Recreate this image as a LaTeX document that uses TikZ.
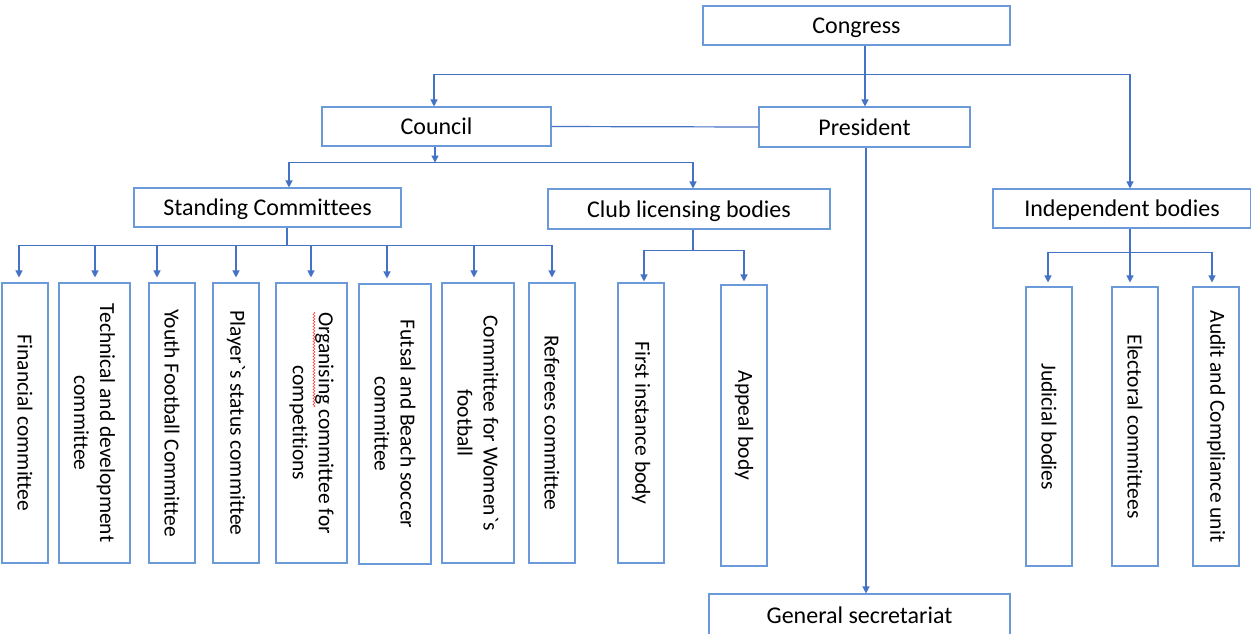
\documentclass[tikz,border=0pt]{standalone}
\usepackage{fontspec}
\setmainfont{Carlito}[Ligatures={TeXOff,CommonOff}]
\usetikzlibrary{arrows.meta,decorations.pathmorphing}
\definecolor{conn}{HTML}{4472C4}
\definecolor{boxc}{HTML}{6A9BD8}
\begin{document}
\begin{tikzpicture}[x=1pt,y=-1pt,
  hbox/.style={draw=boxc,line width=1.1pt,inner sep=0pt,text=black,text height=19.5pt,text depth=3.5pt,font=\fontsize{24}{28}\selectfont},
  vbox/.style={draw=boxc,line width=1.1pt,inner sep=0pt,rotate=-90,minimum width=280pt,align=center,text=black,font=\fontsize{21.5}{26}\selectfont},
  link/.style={draw=conn,line width=1.2pt},
  arr/.style={link,-{Triangle[width=7pt,length=7pt]}}]
\useasboundingbox[fill=white] (0,0) rectangle (1251,633);
\clip (0,0) rectangle (1251,633);
% horizontal boxes
\node[hbox,minimum width=307pt,minimum height=39pt] (congress) at (856.5,25.5) {Congress};
\node[hbox,minimum width=229pt,minimum height=39pt] (council) at (436.5,126.5) {Council};
\node[hbox,minimum width=211pt,minimum height=40pt] (president) at (864.5,127) {President};
\node[hbox,minimum width=267pt,minimum height=39pt] (standing) at (267.5,207.5) {Standing Committees};
\node[hbox,minimum width=282pt,minimum height=40pt] (club) at (689,209) {Club licensing bodies};
\node[hbox,minimum width=258pt,minimum height=39pt] (indep) at (1122,208.5) {Independent bodies};
\node[hbox,minimum width=301pt,minimum height=42pt] (gensec) at (859.5,615) {General secretariat};
% vertical boxes
\node[vbox,minimum height=46pt] (fin) at (25,423) {Financial committee};
\node[vbox,minimum height=71pt] (tech) at (94.5,423) {Technical and development\\committee};
\node[vbox,minimum height=46pt] (youth) at (172,423) {Youth Football Committee};
\node[vbox,minimum height=46pt] (player) at (236,423) {Player`s status committee};
\node[vbox,minimum height=71pt] (org) at (311.5,423) {Organising committee for\\competitions};
\node[vbox,minimum height=72pt] (futsal) at (395,424) {Futsal and Beach soccer\\committee};
\node[vbox,minimum height=72pt] (women) at (478,423) {Committee for Women`s\\football};
\node[vbox,minimum height=46pt] (ref) at (552,423) {Referees committee};
\node[vbox,minimum height=46pt] (first) at (641,423) {First instance body};
\node[vbox,minimum height=46pt,minimum width=281pt] (appeal) at (744,425.5) {Appeal body};
\node[vbox,minimum height=46pt,minimum width=279pt] (judicial) at (1049,426.5) {Judicial bodies};
\node[vbox,minimum height=46pt,minimum width=279pt] (elect) at (1135,426.5) {Electoral committees};
\node[vbox,minimum height=46pt,minimum width=279pt] (audit) at (1216,426.5) {Audit and Compliance unit};
% spell-check mark
\draw[red!75,line width=0.6pt,decorate,decoration={snake,amplitude=0.9pt,segment length=3pt}] (314,312) -- (314,407);
% Congress connectors
\draw[arr] ([xshift=8.5pt]congress.south) -- ([xshift=0.5pt]president.north);
\draw[link] ([xshift=8.5pt]congress.south) -- ++(0,29) coordinate (j1);
\draw[arr] (j1) -| ([xshift=-2.5pt]council.north);
\draw[arr] (j1) -| ([xshift=8pt]indep.north);
% Council - President
\draw[link] (council.east) -- (president.west);
\draw[arr] ([xshift=1.5pt]president.south) -- ([xshift=6.5pt]gensec.north);
% Council children
\draw[arr] ([xshift=-1.5pt]council.south) -- ++(0,16) coordinate (j2);
\draw[arr] (j2) -| ([xshift=21.5pt]standing.north);
\draw[arr] (j2) -| ([xshift=4pt]club.north);
% Standing committees
\draw[link] ([xshift=19.5pt]standing.south) -- ++(0,18) coordinate (j3);
\draw[arr] (j3) -| ([xshift=-6pt,yshift=5pt]fin.west);
\draw[arr] (j3) -| ([xshift=0.5pt,yshift=5pt]tech.west);
\draw[arr] (j3) -| ([xshift=-15pt,yshift=5pt]youth.west);
\draw[arr] (j3) -| ([yshift=5pt]player.west);
\draw[arr] (j3) -| ([xshift=-0.5pt,yshift=5pt]org.west);
\draw[arr] (j3) -| ([xshift=-8pt,yshift=5pt]futsal.west);
\draw[arr] (j3) -| ([xshift=-4pt,yshift=5pt]women.west);
\draw[arr] (j3) -| ([yshift=5pt]ref.west);
% Club licensing
\draw[link] ([xshift=4pt]club.south) -- ++(0,21) coordinate (j4);
\draw[arr] (j4) -| ([xshift=3pt,yshift=1pt]first.west);
\draw[arr] (j4) -| ([yshift=3pt]appeal.west);
% Independent bodies
\draw[arr] ([xshift=8pt]indep.south) -- ([xshift=-5pt,yshift=4pt]elect.west);
\path ([xshift=8pt]indep.south) -- ++(0,24) coordinate (j5);
\draw[arr] (j5) -| ([xshift=-1pt,yshift=4pt]judicial.west);
\draw[arr] (j5) -| ([xshift=-4pt,yshift=4pt]audit.west);
\end{tikzpicture}
\end{document}
